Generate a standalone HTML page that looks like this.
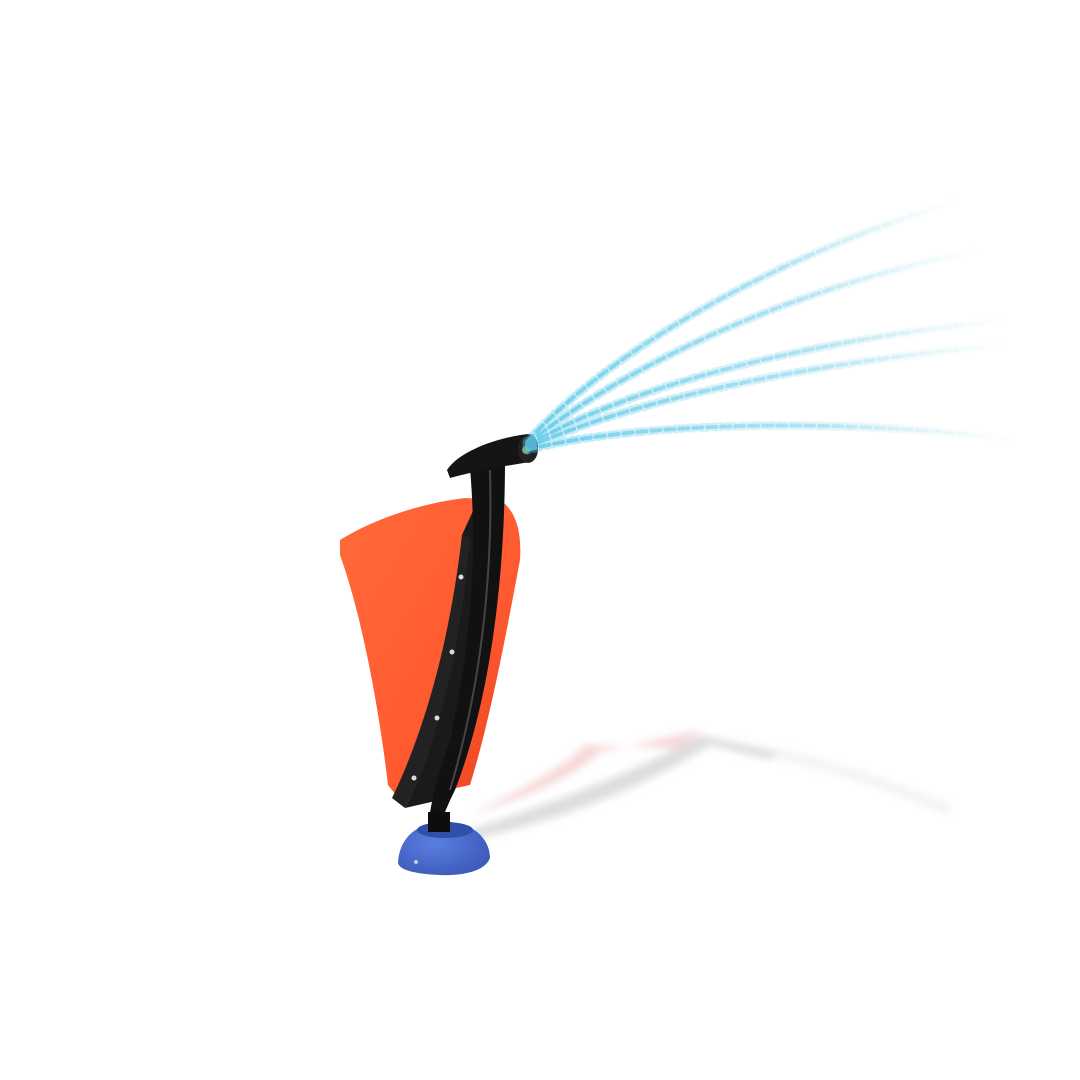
<!DOCTYPE html>
<html><head><meta charset="utf-8"><style>
html,body{margin:0;padding:0;background:#fff;width:1080px;height:1080px;overflow:hidden}
</style></head><body>
<svg width="1080" height="1080" viewBox="0 0 1080 1080" xmlns="http://www.w3.org/2000/svg">
<defs>
<linearGradient id="or" x1="0" y1="0" x2="1" y2="1">
<stop offset="0" stop-color="#ff6a3a"/><stop offset="0.6" stop-color="#ff5a30"/><stop offset="1" stop-color="#e8401e"/></linearGradient>
<linearGradient id="fade" x1="0" y1="0" x2="1" y2="0">
<stop offset="0" stop-color="#5cc8e8" stop-opacity="1"/><stop offset="0.6" stop-color="#8fd8ee" stop-opacity="0.7"/><stop offset="1" stop-color="#cfeef7" stop-opacity="0"/></linearGradient>
<radialGradient id="blue" cx="0.4" cy="0.4" r="0.7"><stop offset="0" stop-color="#5a7fe0"/><stop offset="1" stop-color="#3a58b8"/></radialGradient>
<filter id="bl"><feGaussianBlur stdDeviation="4"/></filter>
</defs>
<g filter="url(#bl)" opacity="0.7">
<path d="M455 835 C560 800 640 770 700 735 L780 752 L770 760 L710 745 C640 790 560 820 470 840 Z" fill="#cfcfcf"/>
<path d="M470 815 C520 790 560 770 585 745 L680 748 L700 730 L600 752 C570 780 520 800 470 815 Z" fill="#f3c8c8"/>
<path d="M780 755 C850 770 900 790 950 810" stroke="#eee" stroke-width="10" fill="none"/>
</g>
<path d="M398 862 C400 835 420 822 445 822 C472 822 490 838 490 858 C485 872 460 876 440 875 C415 874 398 870 398 862 Z" fill="url(#blue)"/>
<ellipse cx="445" cy="830" rx="28" ry="8" fill="#2f4fa8"/>
<circle cx="416" cy="862" r="2" fill="#ccd"/>
<!-- orange panel -->
<path d="M340 540 C380 515 430 502 466 498 L500 500 C515 510 522 530 520 560 C505 640 490 720 470 785 L400 800 L388 785 C378 700 360 610 340 555 Z" fill="url(#or)"/>
<!-- dark fill between strip and pole -->
<path d="M462 535 L478 500 C485 600 470 720 440 800 L405 808 C440 740 460 650 462 535 Z" fill="#1a1a1a"/>
<path d="M462 535 L470 538 C460 650 440 740 405 808 L392 798 C425 730 450 640 462 535 Z" fill="#222"/>
<circle cx="461" cy="577" r="2.5" fill="#ddd"/><circle cx="452" cy="652" r="2.5" fill="#ddd"/>
<circle cx="437" cy="718" r="2.5" fill="#ddd"/><circle cx="414" cy="778" r="2.5" fill="#ddd"/>
<path d="M470 468 L505 460 C505 580 490 700 455 790 C445 810 440 825 438 832 L428 830 C430 800 440 770 450 740 C470 650 478 560 470 468 Z" fill="#111"/>
<path d="M490 470 C493 580 480 690 450 790" stroke="#444" stroke-width="2" fill="none"/>
<rect x="428" y="812" width="22" height="20" fill="#0d0d0d"/>
<path d="M447 470 C460 450 500 437 528 434 C540 435 542 455 530 462 C505 466 480 470 450 478 Z" fill="#151515"/>
<ellipse cx="528" cy="449" rx="10" ry="14" fill="#222"/>
<circle cx="526" cy="450" r="4" fill="#9a8a3a"/>
<!-- water -->
<g fill="none" stroke="url(#fade)" stroke-linecap="round" stroke-dasharray="1 2 2 3 1 5" stroke-width="4" opacity="0.8">
<path d="M527 442 C600 360 760 260 960 200"/>
<path d="M527 444 C620 370 780 290 980 250"/>
<path d="M527 446 C620 390 800 340 1010 320"/>
<path d="M527 448 C630 400 820 360 1010 345"/>
<path d="M527 450 C620 425 820 415 1020 440"/>
</g>
<g fill="none" stroke="url(#fade)" stroke-linecap="round" stroke-dasharray="1 6 2 4" stroke-width="9" opacity="0.4">
<path d="M527 442 C600 360 760 260 960 200"/>
<path d="M527 444 C620 370 780 290 980 250"/>
<path d="M527 446 C620 390 800 340 1010 320"/>
<path d="M527 448 C630 400 820 360 1010 345"/>
<path d="M527 450 C620 425 820 415 1020 440"/>
</g>
</svg>
</body></html>
